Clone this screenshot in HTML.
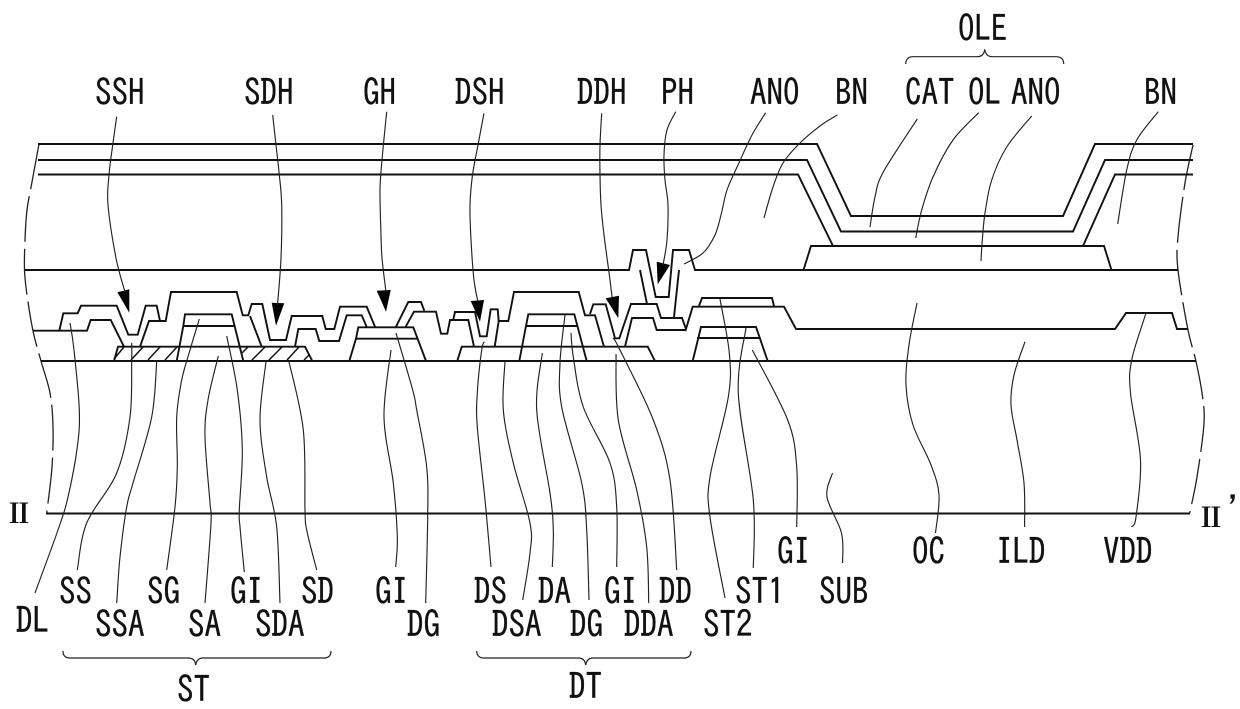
<!DOCTYPE html>
<html><head><meta charset="utf-8"><style>
html,body{margin:0;padding:0;background:#fff;width:1240px;height:709px;overflow:hidden}
svg{display:block}
.m{fill:none;stroke:#111;stroke-width:1.9;stroke-linejoin:miter}
.h{fill:none;stroke:#111;stroke-width:1.5}
.l{fill:none;stroke:#222;stroke-width:1.15;stroke-linejoin:round}
.d{fill:none;stroke:#222;stroke-width:1.3;stroke-dasharray:46 7}
.b{fill:none;stroke:#222;stroke-width:1.2}
text{font-family:"IPAGothic","Liberation Sans",sans-serif;font-size:33px;fill:#111;stroke:#111;stroke-width:.25}
</style></head><body>
<svg width="1240" height="709" viewBox="0 0 1240 709" xmlns="http://www.w3.org/2000/svg">
<!-- dashed break lines -->
<polyline class="d sm" points="39,144 32,182 27,210 25,240 24.5,270 27,295 33,331 41,361 50,393 53,427 52,467 46.7,513"/>
<polyline class="d sm" points="1193,145 1185,183 1178,237 1178,270 1188,330 1195.7,360 1202,393 1204,423 1197,477 1189.7,513"/>

<!-- upper layers -->
<polyline class="m" points="38,144 817,144 851,216 1063,216 1095,144 1193,144"/>
<polyline class="m" points="38,160 807,160 841,231.5 1073,231.5 1105,160 1193,160"/>
<polyline class="m" points="38,174.5 798,174.5 833,246"/>
<polyline class="m" points="1083,246 1115,174.5 1193,174.5"/>
<polyline class="m" points="803.5,270 811,246 1104,246 1111.5,270"/>
<polyline class="m" points="25,270 629,270 633,250 646,250 655.7,297 668.7,297 673,250 689,250 695,270 1178,270"/>
<polyline class="m" points="640,270 647,304"/>
<polyline class="m" points="679,270 674,317"/>

<!-- base lines -->
<line class="m" x1="41" y1="361" x2="1195.7" y2="361"/>
<line class="m" x1="46" y1="513.5" x2="1190" y2="513.5"/>

<!-- ILD top and VDD -->
<polyline class="m" points="33,330.7 87,330.7 90.7,320 110.7,320 124,346.7"/>
<polyline class="m" points="59.3,330.7 63.3,313.3 77.7,313.3 81,305.7 116.7,305.7 128.3,334.7 137.7,334.7 145.7,305.7 156.7,305.7 160,321 165.7,321 171,292 236.7,292 242.7,315.3 248.3,315.3 251.7,304 262.3,304 270,340 286,340 291.7,316 322.3,316 325.7,329 334.3,329 340,306.7 366.7,306.7 375,326.7"/>
<polyline class="m" points="140,346.7 149,321 165.7,321"/>
<polyline class="m" points="250,316 261.7,346.7"/>
<polyline class="m" points="295,346.7 298.3,329 315.7,329 319.3,341 339,341 346.7,315.3 361.7,315.3 366.7,327"/>
<polyline class="m" points="176.7,361 183.3,326 185,314.3 231.7,314.3 243.3,361"/>
<line class="m" x1="183.3" y1="326" x2="235" y2="326"/>
<polyline class="m" points="114,361 118,346.7 305,346.7 312.3,361"/>
<g class="h">
<line x1="114" y1="359" x2="124" y2="347"/>
<line x1="131" y1="360" x2="143" y2="347"/>
<line x1="148" y1="360" x2="160" y2="347"/>
<line x1="165" y1="360" x2="177" y2="347"/>
<line x1="242" y1="353" x2="248" y2="347"/>
<line x1="252" y1="360" x2="265" y2="347"/>
<line x1="269" y1="360" x2="282" y2="347"/>
<line x1="287" y1="360" x2="299" y2="347"/>
<line x1="304" y1="360" x2="309" y2="355"/>
</g>

<!-- GH gate -->
<polyline class="m" points="349.3,361 356,338.7 358.3,327.3 413.3,327.3 426,361"/>
<line class="m" x1="356" y1="338.7" x2="417" y2="338.7"/>
<polyline class="m" points="396,326.7 408.3,302 421,302 424.3,310.7"/>
<polyline class="m" points="405.7,326.7 414,311.7 436,311.7 441,333.7 447.3,333.7 450,320 468.3,320 474,346.7"/>
<polyline class="m" points="453.3,319.3 455,312 475,312 480,336.3 486.7,336.3 490.7,309.3 497.7,309.3 498.7,321 508.3,321 514,292 578.7,292 585,315.3 595,315.3 604,346.7"/>
<line class="m" x1="494.7" y1="346.7" x2="498.7" y2="321"/>
<polyline class="m" points="457.3,361 461.7,346.7 647.7,346.7 655,361"/>
<polyline class="m" points="519.3,361 526,326 528.3,314.3 574.3,314.3 586.7,361"/>
<line class="m" x1="526" y1="326" x2="578" y2="326"/>
<polyline class="m" points="590,314 593.3,304.3 605.7,304.3 615,338.3 619.3,338.3 631,304 656.7,304 661,318 682,318 686,329 692.7,306.7 784,306.7 796,329 1115,329 1126,313 1172,313 1177,329 1188,329"/>
<polyline class="m" points="625,346.7 632,318 653,318 656.7,330 686,330"/>
<polyline class="m" points="699,306 702,298 772,298 774,306"/>
<polyline class="m" points="692.7,361 701,327 756,327 767.7,361"/>
<line class="m" x1="697" y1="338" x2="759" y2="338"/>

<!-- arrowheads -->
<g fill="#000">
<polygon points="117.3,292.3 129.3,289.3 129.3,312.7"/>
<polygon points="271.7,302.7 284.3,303.3 276,325.7"/>
<polygon points="376.7,290.7 390.7,290 386,311.7"/>
<polygon points="470.7,301 484,300 480,321.7"/>
<polygon points="605.7,298.3 619,295.7 618.3,318.3"/>
<polygon points="656.7,261.7 670,265 657.7,284.3"/>
</g>

<!-- leaders top -->
<polyline class="l sm" points="116.7,116.7 113,143 109,175 108,205 116,258 125,292"/>
<polyline class="l sm" points="272.7,115 276,145 279.3,175 281.7,205 281,258 277.5,305"/>
<polyline class="l sm" points="386.7,111.7 382,160 380,190 381,235 382,258 386,292"/>
<polyline class="l sm" points="484,113.3 478,145 472.5,175 470,205 471,240 474,280 478,302"/>
<polyline class="l sm" points="601.7,113.3 600,145 600,175 601,205 604,235 610,280 612,297"/>
<polyline class="l sm" points="675.7,111.7 667,130 664,155 665,180 668,205 667,240 663,265"/>
<polyline class="l sm" points="765.7,112.7 752,135 738,165 727,190 721,215 715,235 703,253 684,264"/>
<polyline class="l sm" points="837.3,115 820,126 800,143 783,163 773,187 764,218"/>
<polyline class="l sm" points="917.3,119 883.3,172 875,197 870,227"/>
<polyline class="l sm" points="978.7,112.7 953,140 933,177 921.7,210 915.7,238"/>
<polyline class="l sm" points="1031.7,116 1006.7,147 991.7,180 985,213 982.3,240 981,261"/>
<polyline class="l sm" points="1158.3,111.7 1136.7,140 1126.7,170 1117.7,224"/>

<!-- leaders bottom -->
<polyline class="l sm" points="70,323 74,350 79.3,410 77.3,447 68,497 58,530 35,593"/>
<polyline class="l sm" points="131.7,343 131.7,361 130,417 116.7,473 86.7,523 77.3,570"/>
<polyline class="l sm" points="156.7,361.7 151.7,417 133,483 126.7,507 120,557 116.7,603"/>
<polyline class="l sm" points="199.3,319 190,350 181.7,380 176.7,417 177.3,467 175,507 166.7,570"/>
<polyline class="l sm" points="218.3,356 208,400 205,437 210,503 211,523 205,603"/>
<polyline class="l sm" points="226.7,336 237.3,390 242.3,450 239.3,510 240,527 244.3,572"/>
<polyline class="l sm" points="266,361.7 260,420 266.7,477 276.7,527 280,603"/>
<polyline class="l sm" points="289,361.7 303.3,430 305,510 306.7,530 316.7,570"/>
<polyline class="l sm" points="391,350 384,417 393.3,483 397.3,537 395.7,567"/>
<polyline class="l sm" points="396,333 412.7,390 416.7,410 426.7,467 427.7,517 425.7,603"/>
<polyline class="l sm" points="484.3,341.7 481.7,350 477.3,393 477.3,427 485,500 491,567"/>
<polyline class="l sm" points="505,361.7 503.3,410 513.3,463 530,523 530,553 522.7,600"/>
<polyline class="l sm" points="542.3,353 536.7,410 550,493 553.3,530 552.3,567"/>
<polyline class="l sm" points="565,315 560,363 561.7,407 581.7,483 586.7,530 589,600"/>
<polyline class="l sm" points="571,333 573.3,357 583.3,407 610,463 616.7,507 616.7,567"/>
<polyline class="l sm" points="616,354 618.3,420 636.7,490 646.7,547 648.7,603"/>
<polyline class="l sm" points="613,338 620,350 653.3,420 670,480 676.7,570"/>
<polyline class="l sm" points="720,299 729.3,353 728.3,397 710,477 710,517 725,598"/>
<polyline class="l sm" points="746,328 738.3,393 753.3,500 753.3,568"/>
<polyline class="l sm" points="752.3,350 787.7,420 796.7,467 796.7,527"/>
<polyline class="l sm" points="832.5,473 827,497 841.5,533 842.6,563"/>
<polyline class="l sm" points="917,303 909,345 906,385 913,425 931,465 939,495 935.5,533"/>
<polyline class="l sm" points="1025,341.7 1014,375 1011,405 1017,440 1024,483 1024.6,527"/>
<polyline class="l sm" points="1145.7,314 1131.7,360 1130.5,393 1140.5,460 1136,517 1131.5,527"/>

<!-- braces -->
<path class="b" d="M63,651 Q63,658 70,658 L188,658 Q195,658 195.7,665 Q197,658 203,658 L324,658 Q331,658 331,651"/>
<path class="b" d="M476.7,651 Q477,658 484,658 L578,658 Q585,658 585.7,665 Q587,658 593,658 L684,658 Q691,658 691,651"/>
<path class="b" d="M905.7,64 Q906,56.7 913,56.7 L977,56.7 Q984,56.7 984.7,49.3 Q986,56.7 992,56.7 L1056,56.7 Q1063.7,56.7 1063.7,64"/>

<!-- labels: vertically stretched to match tall glyphs -->
<g transform="translate(0 1.5) scale(1 1.12)">
<text x="95" y="92.86">SSH</text>
<text x="244" y="92.86">SDH</text>
<text x="363" y="92.86">GH</text>
<text x="455" y="92.86">DSH</text>
<text x="577" y="92.86">DDH</text>
<text x="661" y="92.86">PH</text>
<text x="750" y="92.86">ANO</text>
<text x="835" y="92.86">BN</text>
<text x="905" y="92.86">CAT</text>
<text x="968" y="92.86">OL</text>
<text x="1011" y="92.86">ANO</text>
<text x="1144" y="92.86">BN</text>
<text x="958" y="35.71">OLE</text>

<text x="59" y="538.39">SS</text>
<text x="147" y="538.39">SG</text>
<text x="230" y="538.39">GI</text>
<text x="301" y="538.39">SD</text>
<text x="95" y="567.86">SSA</text>
<text x="188" y="567.86">SA</text>
<text x="255" y="567.86">SDA</text>
<text x="16" y="564.29">DL</text>
<text x="177" y="625.89">ST</text>
<text x="375" y="538.39">GI</text>
<text x="407" y="567.86">DG</text>
<text x="474" y="538.39">DS</text>
<text x="538" y="538.39">DA</text>
<text x="604" y="538.39">GI</text>
<text x="659" y="538.39">DD</text>
<text x="492" y="567.86">DSA</text>
<text x="570" y="567.86">DG</text>
<text x="624" y="567.86">DDA</text>
<text x="703" y="567.86">ST2</text>
<text x="569" y="623.21">DT</text>
<text x="777" y="502.68">GI</text>
<text x="735" y="538.39">ST1</text>
<text x="819" y="538.39">SUB</text>
<text x="912" y="502.68">OC</text>
<text x="996" y="502.68">ILD</text>
<text x="1103" y="502.68">VDD</text>
</g>
<text x="19" y="523" text-anchor="middle" style="font-family:'Noto Serif CJK SC','IPAGothic',serif;font-weight:700;font-size:27px;stroke:none">Ⅱ</text>
<text x="1211" y="527" text-anchor="middle" style="font-family:'Noto Serif CJK SC','IPAGothic',serif;font-weight:700;font-size:27px;stroke:none">Ⅱ</text>
<text x="1228" y="522">'</text>
</svg>
<script>
document.querySelectorAll('polyline.sm').forEach(function(e){
var a=e.getAttribute('points').trim().split(/\s+/).map(function(s){return s.split(',').map(Number)});
var d='M'+a[0][0]+','+a[0][1];
for(var i=0;i<a.length-1;i++){
var p0=a[i-1]||a[i],p1=a[i],p2=a[i+1],p3=a[i+2]||p2;
d+=' C'+(p1[0]+(p2[0]-p0[0])/6).toFixed(1)+','+(p1[1]+(p2[1]-p0[1])/6).toFixed(1)+' '+(p2[0]-(p3[0]-p1[0])/6).toFixed(1)+','+(p2[1]-(p3[1]-p1[1])/6).toFixed(1)+' '+p2[0]+','+p2[1];
}
var n=document.createElementNS('http://www.w3.org/2000/svg','path');
n.setAttribute('class',e.getAttribute('class'));n.setAttribute('d',d);
e.parentNode.replaceChild(n,e);
});
</script>
</body></html>
